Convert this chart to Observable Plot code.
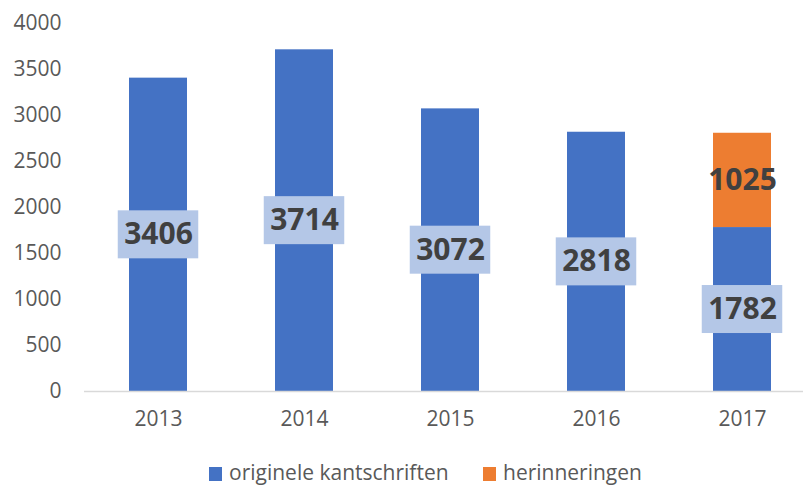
<!DOCTYPE html>
<html>
<head>
<meta charset="utf-8">
<script src="https://cdn.jsdelivr.net/npm/d3@7"></script>
<script src="https://cdn.jsdelivr.net/npm/@observablehq/plot@0.6"></script>
<style>
  html, body { margin: 0; padding: 0; background: #fff; }
  #wrap { position: relative; width: 803px; height: 485px; font-family: "Open Sans", sans-serif; }
  .legend { position: absolute; top: 440px; left: 0; width: 803px; height: 45px; color: #595959; font-size: 21px; }
  .sw { position: absolute; width: 13px; height: 14px; top: 27px; }
  .lt { position: absolute; top: 20px; line-height: 24px; white-space: nowrap; }
</style>
</head>
<body>
<div id="wrap"></div>
<script>
const years = ["2013", "2014", "2015", "2016", "2017"];
const originele = [3406, 3714, 3072, 2818, 1782];
const herinneringen = [null, null, null, null, 1025];
const seriesNames = ["originele kantschriften", "herinneringen"];
const seriesColors = ["#4472C4", "#ED7D31"];
const yTicks = [0, 500, 1000, 1500, 2000, 2500, 3000, 3500, 4000];

const rows = [];
years.forEach((y, i) => {
  rows.push({year: y, series: seriesNames[0], value: originele[i], mid: originele[i] / 2});
  if (herinneringen[i] != null) {
    rows.push({year: y, series: seriesNames[1], value: herinneringen[i], mid: originele[i] + herinneringen[i] / 2});
  }
});
const blueRows = rows.filter(d => d.series === seriesNames[0]);

const chart = Plot.plot({
  width: 803,
  height: 440,
  marginLeft: 84,
  marginRight: 0,
  marginTop: 23,
  marginBottom: 49,
  style: {fontFamily: "Open Sans, sans-serif", fontSize: "21px", color: "#595959", background: "#fff"},
  x: {domain: years, range: [40.25, 859.25], padding: 0.6, label: null, tickSize: 0, tickPadding: 20},
  y: {domain: [0, 4000], ticks: yTicks, label: null, tickSize: 0, tickPadding: 23, tickFormat: d => String(d)},
  color: {domain: seriesNames, range: seriesColors},
  marks: [
    Plot.barY(rows, {x: "year", y: "value", fill: "series", order: seriesNames}),
    Plot.ruleY([0], {stroke: "#D9D9D9", strokeWidth: 1.5}),
    Plot.barY(blueRows, {x: "year", y1: "mid", y2: "mid", fill: "#B4C7E7",
      insetLeft: -11.25, insetRight: -11.25, insetTop: -24, insetBottom: -24}),
    Plot.text(rows, {x: "year", y: "mid", text: d => String(d.value), fill: "#404040",
      fontWeight: "bold", fontSize: 30, fontFamily: "Open Sans, sans-serif"})
  ]
});
chart.style.display = "block";
const wrap = document.getElementById("wrap");
wrap.appendChild(chart);

const legend = document.createElement("div");
legend.className = "legend";
const pos = [[209, 229], [483, 503]];
seriesNames.forEach((name, i) => {
  const sw = document.createElement("div");
  sw.className = "sw";
  sw.style.left = pos[i][0] + "px";
  sw.style.background = seriesColors[i];
  const t = document.createElement("div");
  t.className = "lt";
  t.style.left = pos[i][1] + "px";
  t.textContent = name;
  legend.appendChild(sw);
  legend.appendChild(t);
});
wrap.appendChild(legend);
</script>
</body>
</html>
